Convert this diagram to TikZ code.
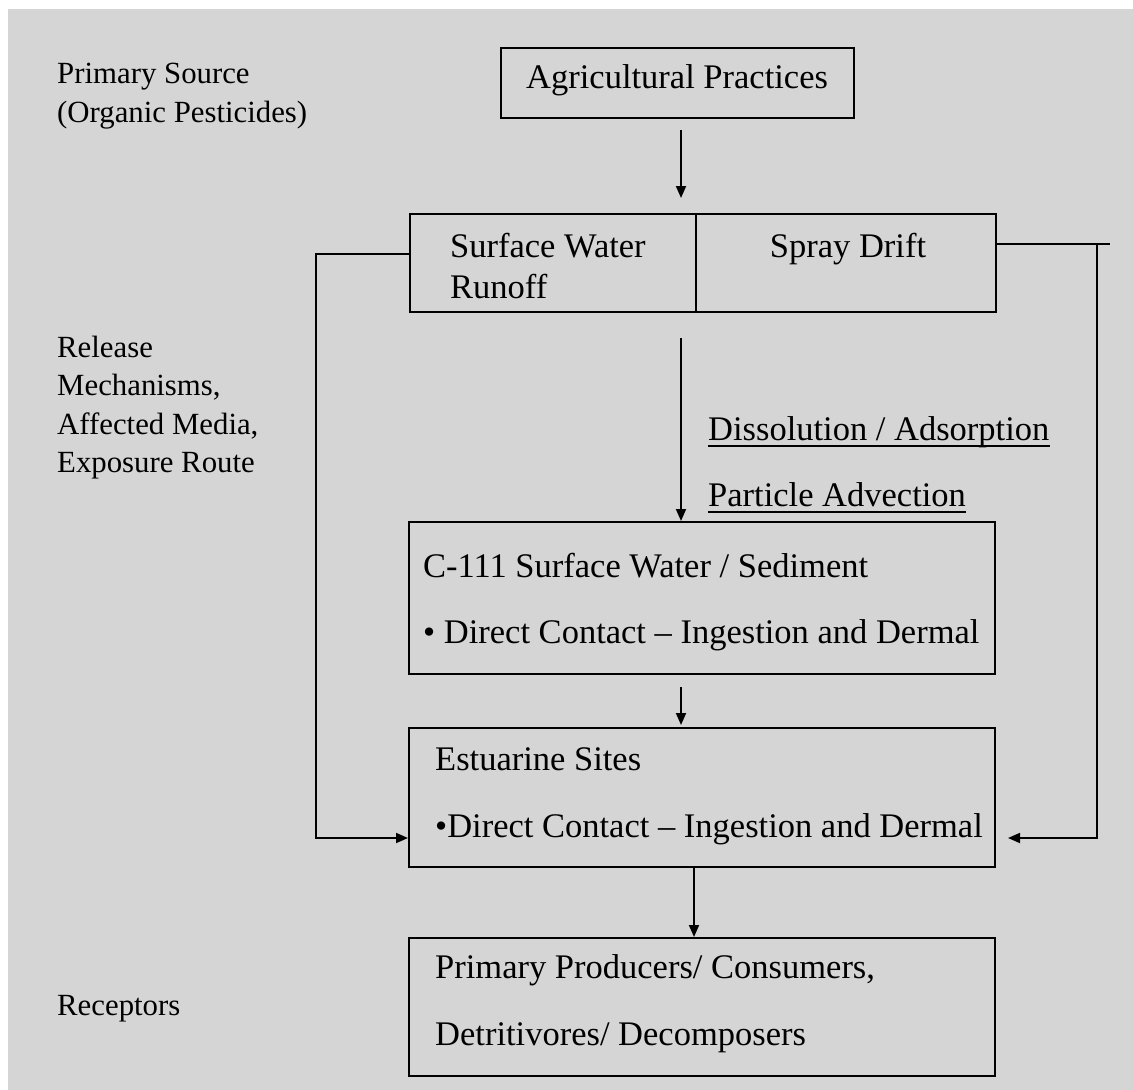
\documentclass[tikz,border=0pt]{standalone}
\usepackage{fontspec}
\setmainfont{Liberation Serif}
\usetikzlibrary{arrows.meta}
\definecolor{bggray}{RGB}{213,213,213}
\tikzset{
  box/.style={draw, line width=1.8pt, inner sep=0pt, anchor=north west},
  lbl/.style={inner sep=0pt, anchor=base west, font=\fontsize{34.5pt}{40pt}\selectfont},
  sidelbl/.style={inner sep=0pt, anchor=base west, font=\fontsize{30.8pt}{38pt}\selectfont},
  conn/.style={line width=1.8pt},
  arr/.style={conn, -{Triangle[length=12pt,width=10pt]}},
  uline/.style={line width=1.8pt}
}
\begin{document}
\begin{tikzpicture}[x=1pt,y=-1pt]
\useasboundingbox (0,0) rectangle (1133,1090);
\fill[white] (0,0) rectangle (1133,1090);
\fill[bggray] (8,9) rectangle (1133,1090);

% side labels
\node[sidelbl] (ps1) at (57,83) {Primary Source};
\node[sidelbl] (ps2) at (57,122) {(Organic Pesticides)};
\node[sidelbl] (rm1) at (57,357) {Release};
\node[sidelbl] (rm2) at (57,395) {Mechanisms,};
\node[sidelbl] (rm3) at (57,434) {Affected Media,};
\node[sidelbl] (rm4) at (57,472) {Exposure Route};
\node[sidelbl] (rc) at (57,1015) {Receptors};

% boxes
\node[box, minimum width=353pt, minimum height=70pt] (agri) at (500,47) {};
\node[box, minimum width=286pt, minimum height=98pt] (runoff) at (409,213) {};
\node[box, minimum width=300pt, minimum height=98pt] (spray) at (695,213) {};
\node[box, minimum width=586pt, minimum height=152pt] (c111) at (408,521) {};
\node[box, minimum width=586pt, minimum height=139pt] (estu) at (408,727) {};
\node[box, minimum width=586pt, minimum height=138pt] (recep) at (408,937) {};

% box texts
\node[lbl] (agrit) at (526,88) {Agricultural Practices};
\node[lbl] (rot1) at (450,257) {Surface Water};
\node[lbl] (rot2) at (450,298) {Runoff};
\node[lbl, anchor=base] (spt) at (848,257) {Spray Drift};
\node[lbl] (ct1) at (423,577) {C-111 Surface Water / Sediment};
\node[lbl] (ct2) at (423,643) {• Direct Contact – Ingestion and Dermal};
\node[lbl] (et1) at (435,770) {Estuarine Sites};
\node[lbl] (et2) at (435,837) {•Direct Contact – Ingestion and Dermal};
\node[lbl] (pt1) at (435,978) {Primary Producers/ Consumers,};
\node[lbl] (pt2) at (435,1045) {Detritivores/ Decomposers};

% process labels (underlined)
\node[lbl] (dis) at (708,440) {Dissolution / Adsorption};
\node[lbl] (pad) at (708,506) {Particle Advection};
\draw[uline] ([yshift=-6pt]dis.base west) -- ([yshift=-6pt]dis.base east);
\draw[uline] ([yshift=-6pt]pad.base west) -- ([yshift=-6pt]pad.base east);

% coordinates
\coordinate (a1s) at (681,130);
\coordinate (a1e) at (681,198);
\coordinate (a2s) at (681,338);
\coordinate (a3s) at (681,687);
\coordinate (a3e) at (681,725);
\coordinate (a4s) at (694,866);
\coordinate (lc1) at (409,254);
\coordinate (lc2) at (316,254);
\coordinate (lc3) at (316,838);
\coordinate (lc4) at (408,838);
\coordinate (rc1) at (995,244);
\coordinate (rc0) at (1110,244);
\coordinate (rc2) at (1097,244);
\coordinate (rc3) at (1097,838);
\coordinate (rc4) at (1008,838);

% connectors
\draw[arr] (a1s) -- (a1e);
\draw[arr] (a2s) -- (a2s |- c111.north);
\draw[arr] (a3s) -- (a3e);
\draw[arr] (a4s) -- (a4s |- recep.north);
\draw[arr] (lc1) -- (lc2) -- (lc3) -- (lc4);
\draw[conn] (rc1) -- (rc0);
\draw[arr] (rc2) -- (rc3) -- (rc4);
\end{tikzpicture}
\end{document}
